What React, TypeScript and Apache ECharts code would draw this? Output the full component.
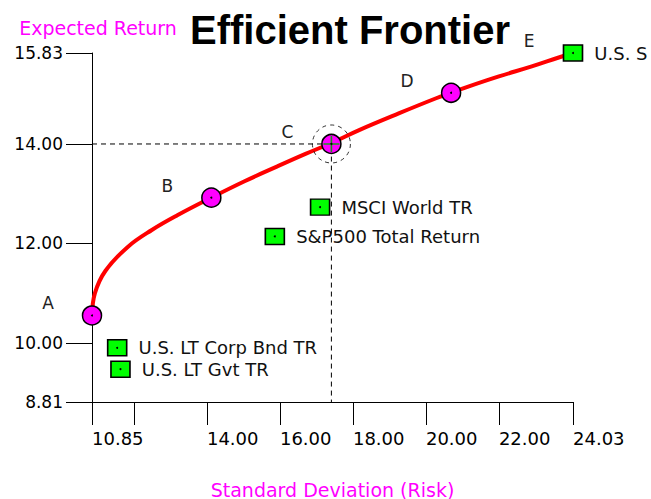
import React, { useEffect, useRef } from "react";
import * as echarts from "echarts";

// Efficient frontier curve (risk, return)
const curveRisk = [10.85, 10.93, 11.22, 11.83, 12.49, 13.2, 14.12, 15.03, 15.93, 16.7, 17.41, 18.17, 19.27, 20.28, 20.69, 21.1, 22.0, 22.9, 23.64, 24.03];
const curveReturn = [10.55, 11.0, 11.45, 11.93, 12.27, 12.57, 12.92, 13.25, 13.55, 13.8, 14.02, 14.28, 14.62, 14.92, 15.03, 15.14, 15.36, 15.56, 15.74, 15.83];

// Labelled frontier portfolios
const pointNames = ["A", "B", "C", "D", "E"];
const pointRisk = [10.85, 14.12, 17.41, 20.69, 24.03];
const pointReturn = [10.55, 12.92, 14.0, 15.03, 15.83];

// Asset classes
const assetNames = ["U.S. S", "MSCI World TR", "S&P500 Total Return", "U.S. LT Corp Bnd TR", "U.S. LT Gvt TR"];
const assetRisk = [24.03, 17.1, 15.86, 11.54, 11.63];
const assetReturn = [15.83, 12.73, 12.14, 9.9, 9.47];

// Axis ticks
const xTicks = [10.85, 12, 14, 16, 18, 20, 22, 24.03];
const xTickLabels = [10.85, 14, 16, 18, 20, 22, 24.03];
const yTicks = [8.81, 10, 12, 14, 15.83];

const FONT = "DejaVu Sans";

export default function App() {
  const ref = useRef<HTMLDivElement>(null);
  useEffect(() => {
    if (!ref.current) return;
    const chart = echarts.init(ref.current, null, { renderer: "svg" });
    const c = 2; // index of highlighted portfolio C
    const option: any = {
      animation: false,
      backgroundColor: "#fff",
      title: {
        text: "Efficient Frontier",
        left: 185,
        top: 5,
        textStyle: { fontFamily: "Liberation Sans", fontWeight: "bold", fontSize: 40, color: "#000" },
      },
      grid: { left: 92, top: 53, width: 481, height: 349, containLabel: false, outerBoundsMode: "none" },
      xAxis: {
        type: "value",
        min: 10.85,
        max: 24.03,
        name: "Standard Deviation (Risk)",
        nameLocation: "middle",
        nameGap: 78,
        nameTextStyle: { color: "#ff00ff", fontSize: 19, fontFamily: FONT },
        axisLine: { lineStyle: { color: "#000", width: 1 } },
        axisTick: { length: 23, customValues: xTicks, lineStyle: { color: "#000", width: 1 } },
        axisLabel: {
          customValues: xTickLabels,
          formatter: (v: number) => v.toFixed(2),
          align: "left",
          margin: 27,
          fontSize: 18,
          fontFamily: FONT,
          color: "#000",
        },
        splitLine: { show: false },
      },
      yAxis: {
        type: "value",
        min: 8.81,
        max: 15.83,
        name: "Expected Return",
        nameLocation: "end",
        nameGap: 16,
        nameTextStyle: { color: "#ff00ff", fontSize: 19, fontFamily: FONT, align: "center", padding: [0, 0, 0, 12] },
        axisLine: { lineStyle: { color: "#000", width: 1 } },
        axisTick: { length: 26, customValues: yTicks, lineStyle: { color: "#000", width: 1 } },
        axisLabel: {
          customValues: yTicks,
          formatter: (v: number) => v.toFixed(2),
          margin: 29,
          fontSize: 17,
          fontFamily: FONT,
          color: "#000",
        },
        splitLine: { show: false },
      },
      series: [
        {
          type: "line",
          data: [
            [xTicks[0], pointReturn[c]],
            [pointRisk[c], pointReturn[c]],
            [pointRisk[c], yTicks[0]],
          ],
          showSymbol: false,
          lineStyle: { color: "#000", width: 1, type: [5, 4] },
          z: 1,
        },
        {
          type: "line",
          data: curveRisk.map((x, i) => [x, curveReturn[i]]),
          smooth: 0.4,
          showSymbol: false,
          lineStyle: { color: "#ff0000", width: 4 },
          z: 2,
        },
        {
          type: "scatter",
          data: [[pointRisk[c], pointReturn[c]]],
          symbol: "circle",
          symbolSize: 38,
          itemStyle: { color: "rgba(0,0,0,0)", borderColor: "#000", borderWidth: 1, borderType: [4, 4] },
          z: 3,
        },
        {
          type: "scatter",
          data: pointNames.map((n, i) => ({ name: n, value: [pointRisk[i], pointReturn[i]] })),
          symbol: "circle",
          symbolSize: (_v: any, p: any) => (p.dataIndex === pointNames.length - 1 ? 0 : 19),
          itemStyle: { color: "#ff00ff", borderColor: "#000", borderWidth: 1.5, opacity: 1 },
          label: {
            show: true,
            position: "inside",
            offset: [-44, -12],
            formatter: "{b}",
            fontSize: 17,
            fontFamily: FONT,
            color: "#222",
          },
          z: 4,
        },
        {
          type: "scatter",
          data: assetNames.map((n, i) => ({ name: n, value: [assetRisk[i], assetReturn[i]] })),
          symbol: "rect",
          symbolSize: [19, 16],
          itemStyle: { color: "#00ff00", borderColor: "#000", borderWidth: 1.5, opacity: 1 },
          label: {
            show: true,
            position: "right",
            distance: 11,
            formatter: "{b}",
            fontSize: 18,
            fontFamily: FONT,
            color: "#111",
          },
          z: 4,
        },
        {
          type: "scatter",
          data: [[pointRisk[c], pointReturn[c]]],
          symbol: "path://M4.5,0H5.5V10H4.5ZM0,4.5H10V5.5H0Z",
          symbolSize: 16,
          itemStyle: { color: "#1a9a1a", opacity: 1 },
          z: 5,
        },
        {
          type: "scatter",
          data: pointRisk
            .slice(0, pointRisk.length - 1)
            .map((x, i) => [x, pointReturn[i]])
            .concat(assetRisk.map((x, i) => [x, assetReturn[i]])),
          symbol: "circle",
          symbolSize: 2,
          itemStyle: { color: "#000", opacity: 1 },
          z: 6,
        },
      ],
    };
    chart.setOption(option);
    return () => chart.dispose();
  }, []);
  return (
    <div
      ref={ref}
      style={{ position: "fixed", left: 0, top: 0, width: 651, height: 499, background: "#fff" }}
    />
  );
}
